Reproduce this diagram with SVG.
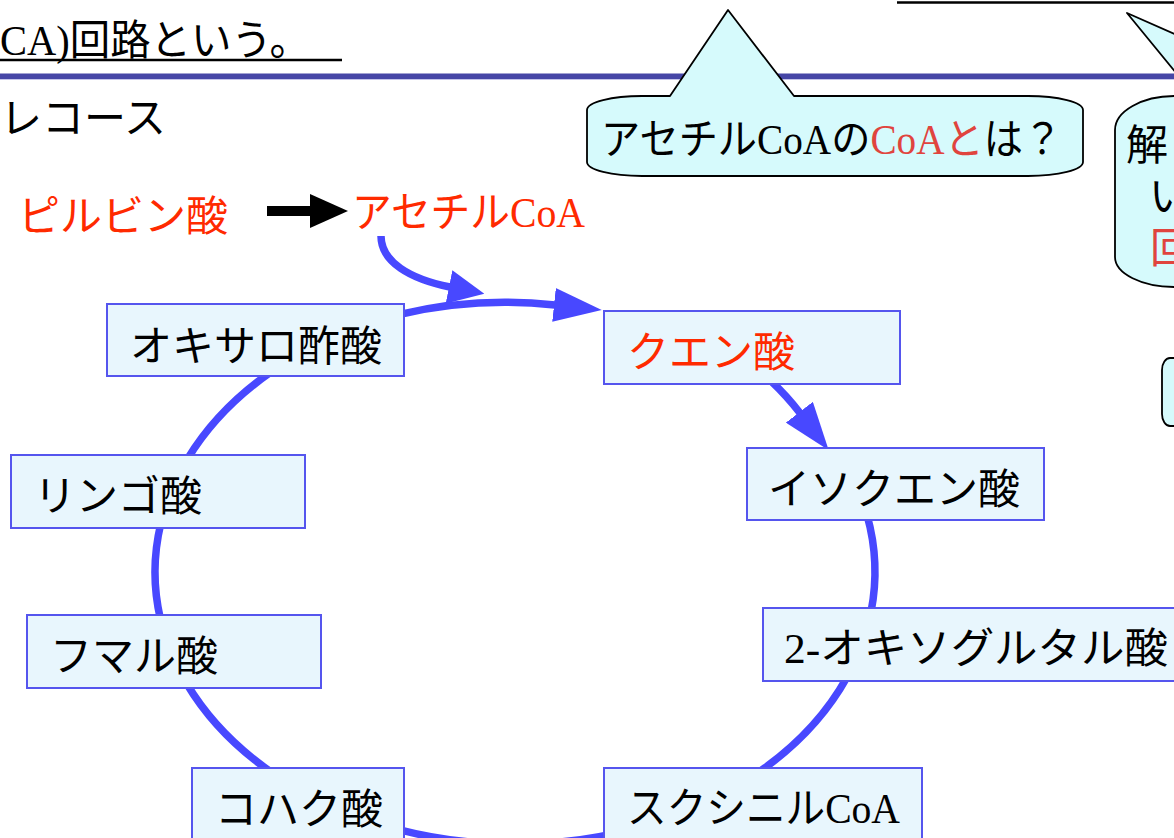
<svg xmlns="http://www.w3.org/2000/svg" width="1174" height="838" viewBox="0 0 1174 838">
  <style>
    text { font-family: "Liberation Serif", "Noto Sans CJK JP", serif; font-size: 42px; fill: #000; }
    .red { fill: #FF2A00; }
    .pink { fill: #E0443E; }
    .node rect { fill: #E8F6FD; stroke: #5555EE; stroke-width: 2; }
    .callout { fill: #D6FAFC; stroke: #000; stroke-width: 1.8; stroke-linejoin: round; }
    .cyc { fill: none; stroke: #4848FF; stroke-width: 7.5; }
  </style>
  <defs>
    <marker id="ahBig" markerUnits="userSpaceOnUse" viewBox="0 0 48 34" markerWidth="48" markerHeight="34" refX="1" refY="17" orient="auto">
      <path d="M0,0 L48,17 L0,34 Z" fill="#4848FF"/>
    </marker>
    <marker id="ahSmall" markerUnits="userSpaceOnUse" viewBox="0 0 36 34" markerWidth="36" markerHeight="34" refX="1" refY="17" orient="auto">
      <path d="M0,0 L36,17 L0,34 Z" fill="#4848FF"/>
    </marker>
    <marker id="ahBlack" markerUnits="userSpaceOnUse" viewBox="0 0 38 34" markerWidth="38" markerHeight="34" refX="1" refY="17" orient="auto">
      <path d="M0,0 L38,17 L0,34 Z" fill="#000"/>
    </marker>
  </defs>

  <rect width="1174" height="838" fill="#fff"/>

  <!-- header -->
  <g id="header">
    <line x1="897" y1="2.5" x2="1174" y2="2.5" stroke="#000" stroke-width="2.5"/>
    <text x="0" y="55" textLength="310" lengthAdjust="spacingAndGlyphs">CA)回路という。</text>
    <line x1="0" y1="60" x2="342" y2="60" stroke="#000" stroke-width="2.5"/>
    <rect x="0" y="73.5" width="1174" height="5.5" fill="#4646A6"/>
    <line x1="0" y1="79.5" x2="1174" y2="79.5" stroke="#C4C4EA" stroke-width="1"/>
    <text x="0" y="133">レコース</text>
  </g>

  <!-- connectors -->
  <g id="connectors">
    <line x1="267" y1="211" x2="311" y2="211" stroke="#000" stroke-width="10" marker-end="url(#ahBlack)"/>
    <path class="cyc" d="M381,236 C381,262 410,279 450,287" marker-end="url(#ahSmall)"/>
    <path class="cyc" d="M400,314.3 A360 272 0 0 1 555,305" marker-end="url(#ahBig)"/>
    <path class="cyc" d="M770,380 A360 272 0 0 1 800,413" marker-end="url(#ahBig)"/>
    <path class="cyc" d="M867,515 A360 272 0 0 1 871,612"/>
    <path class="cyc" d="M847.1,677 A360 272 0 0 1 759,772"/>
    <path class="cyc" d="M695,807.6 A360 272 0 0 1 335,807.6"/>
    <path class="cyc" d="M271,772 A360 272 0 0 1 186.9,684"/>
    <path class="cyc" d="M160.4,619 A360 272 0 0 1 160.7,524"/>
    <path class="cyc" d="M187.5,459 A360 272 0 0 1 271,372"/>
  </g>

  <!-- callouts -->
  <g id="callout-coa">
    <path class="callout" d="M587,110 A55 14 0 0 1 642,96 L670,96 L728,10 L794,96 L1028,96 A55 14 0 0 1 1083,110 L1083,162 A55 14 0 0 1 1028,176 L642,176 A55 14 0 0 1 587,162 Z"/>
    <text transform="translate(601,154) scale(0.934,1)" x="0" y="0">アセチルCoAの<tspan class="pink">CoAと</tspan>は？</text>
  </g>
  <g id="callout-right">
    <path class="callout" d="M1115,130 A60 34 0 0 1 1175,96 L1195,96 L1127,13 L1300,89 L1300,300 L1175,287 A60 30 0 0 1 1115,257 Z"/>
    <text x="1126" y="160">解</text>
    <text x="1149" y="211">い</text>
    <text x="1150" y="263" class="pink">回</text>
  </g>
  <g id="callout-small">
    <rect class="callout" x="1162" y="358" width="40" height="68" rx="8" ry="12"/>
  </g>

  <!-- nodes -->
  <g id="pyruvate"><text x="18" y="231" class="red">ピルビン酸</text></g>
  <g id="acetylcoa"><text x="352" y="227" class="red" textLength="233" lengthAdjust="spacingAndGlyphs">アセチルCoA</text></g>

  <g id="oxaloacetate" class="node">
    <rect x="107" y="304" width="297" height="72"/>
    <text x="130" y="361">オキサロ酢酸</text>
  </g>
  <g id="citrate" class="node">
    <rect x="604" y="311" width="296" height="73"/>
    <text x="627" y="367" class="red">クエン酸</text>
  </g>
  <g id="isocitrate" class="node">
    <rect x="747" y="448" width="297" height="72"/>
    <text x="768" y="504">イソクエン酸</text>
  </g>
  <g id="oxoglutarate" class="node">
    <rect x="763" y="608" width="440" height="73"/>
    <text x="784" y="663" textLength="384" lengthAdjust="spacingAndGlyphs">2-オキソグルタル酸</text>
  </g>
  <g id="succinylcoa" class="node">
    <rect x="604" y="768" width="318" height="90"/>
    <text x="627" y="823" textLength="273" lengthAdjust="spacingAndGlyphs">スクシニルCoA</text>
  </g>
  <g id="succinate" class="node">
    <rect x="192" y="768" width="212" height="90"/>
    <text x="215" y="824">コハク酸</text>
  </g>
  <g id="fumarate" class="node">
    <rect x="27" y="615" width="294" height="73"/>
    <text x="50" y="671">フマル酸</text>
  </g>
  <g id="malate" class="node">
    <rect x="11" y="455" width="294" height="73"/>
    <text x="34" y="511">リンゴ酸</text>
  </g>
</svg>
